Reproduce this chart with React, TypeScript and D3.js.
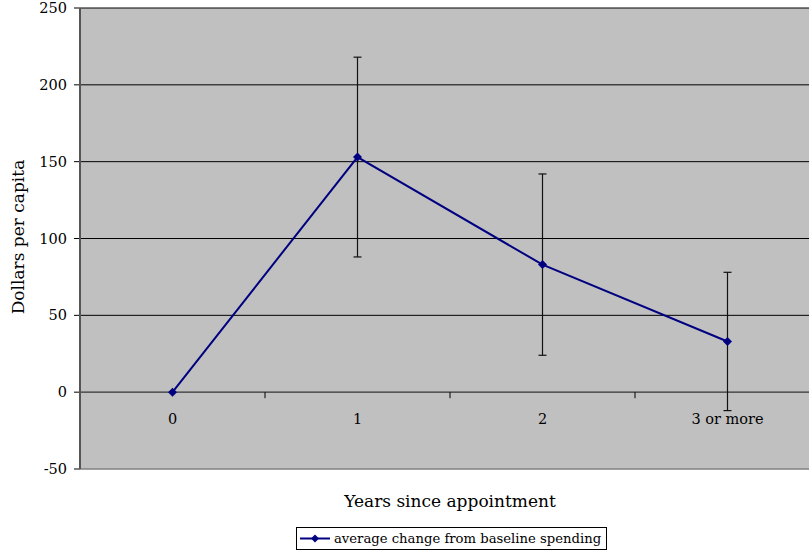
import React from "react";
import * as d3 from "d3";

const categories = ["0", "1", "2", "3 or more"];
const values = [0, 153, 83, 33];
const errors = [0, 65, 59, 45];
const yTicks = [-50, 0, 50, 100, 150, 200, 250];
const seriesName = "average change from baseline spending";

const W = 809;
const H = 552;
const left = 80;
const top = 8;
const bottom = 469;
const right = 820;
const font = "'DejaVu Serif', Georgia, serif";
const navy = "#000080";

export default function App() {
  const x = d3.scaleBand<string>().domain(categories).range([left, right]).padding(0);
  const y = d3.scaleLinear().domain([-50, 250]).range([bottom, top]);
  const cx = (c: string) => (x(c) as number) + x.bandwidth() / 2;
  const line = d3
    .line<number>()
    .x((_, i) => cx(categories[i]))
    .y((d) => y(d));
  const diamond = (px: number, py: number, r: number) =>
    `M${px},${py - r}L${px + r},${py}L${px},${py + r}L${px - r},${py}Z`;

  return (
    <svg
      width={W}
      height={H}
      style={{ position: "absolute", left: 0, top: 0, display: "block", background: "#fff" }}
    >
      <rect x={left} y={top} width={right - left} height={bottom - top} fill="#C0C0C0" />
      {yTicks.map((t) => (
        <g key={t}>
          {t !== -50 && t !== 0 && (
            <line x1={left} x2={right} y1={y(t)} y2={y(t)} stroke="#000" strokeWidth={1} />
          )}
          <line x1={left - 6} x2={left} y1={y(t)} y2={y(t)} stroke="#000" strokeWidth={1} />
          <text
            x={left - 13}
            y={y(t)}
            dy="0.35em"
            textAnchor="end"
            fontFamily={font}
            fontSize={14.5}
            fill="#000"
          >
            {t}
          </text>
        </g>
      ))}
      {/* bottom border */}
      <line x1={left} x2={right} y1={bottom} y2={bottom} stroke="#808080" strokeWidth={1.5} />
      {/* x axis at zero */}
      <line x1={left} x2={right} y1={y(0)} y2={y(0)} stroke="#333" strokeWidth={1.2} />
      {categories.slice(1).map((c) => (
        <line
          key={c}
          x1={x(c) as number}
          x2={x(c) as number}
          y1={y(0)}
          y2={y(0) + 6}
          stroke="#000"
          strokeWidth={1}
        />
      ))}
      {/* y axis */}
      <line x1={left} x2={left} y1={top} y2={bottom} stroke="#555" strokeWidth={2} />
      {categories.map((c) => (
        <text
          key={c}
          x={cx(c)}
          y={y(0) + 32}
          textAnchor="middle"
          fontFamily={font}
          fontSize={14.5}
          fill="#000"
        >
          {c}
        </text>
      ))}
      {/* error bars */}
      {categories.map((c, i) =>
        errors[i] > 0 ? (
          <g key={c} stroke="#111" strokeWidth={1.2}>
            <line x1={cx(c)} x2={cx(c)} y1={y(values[i] - errors[i])} y2={y(values[i] + errors[i])} />
            <line x1={cx(c) - 4} x2={cx(c) + 4} y1={y(values[i] + errors[i])} y2={y(values[i] + errors[i])} />
            <line x1={cx(c) - 4} x2={cx(c) + 4} y1={y(values[i] - errors[i])} y2={y(values[i] - errors[i])} />
          </g>
        ) : null
      )}
      <path d={line(values) as string} fill="none" stroke={navy} strokeWidth={2} />
      {values.map((v, i) => (
        <path key={i} d={diamond(cx(categories[i]), y(v), 4.5)} fill={navy} />
      ))}
      <text
        x={18}
        y={237}
        transform="rotate(-90 18 237)"
        dy="0.35em"
        textAnchor="middle"
        fontFamily={font}
        fontSize={17}
        fill="#000"
      >
        Dollars per capita
      </text>
      <text x={450} y={507} textAnchor="middle" fontFamily={font} fontSize={17} fill="#000">
        Years since appointment
      </text>
      <rect x={296.5} y={527.5} width={310} height={22} fill="#fff" stroke="#000" strokeWidth={1} />
      <line x1={300} x2={330} y1={538.5} y2={538.5} stroke={navy} strokeWidth={2} />
      <path d={diamond(315, 538.5, 4)} fill={navy} />
      <text x={334} y={538.5} dy="0.35em" fontFamily={font} fontSize={13.2} fill="#000">
        {seriesName}
      </text>
    </svg>
  );
}
